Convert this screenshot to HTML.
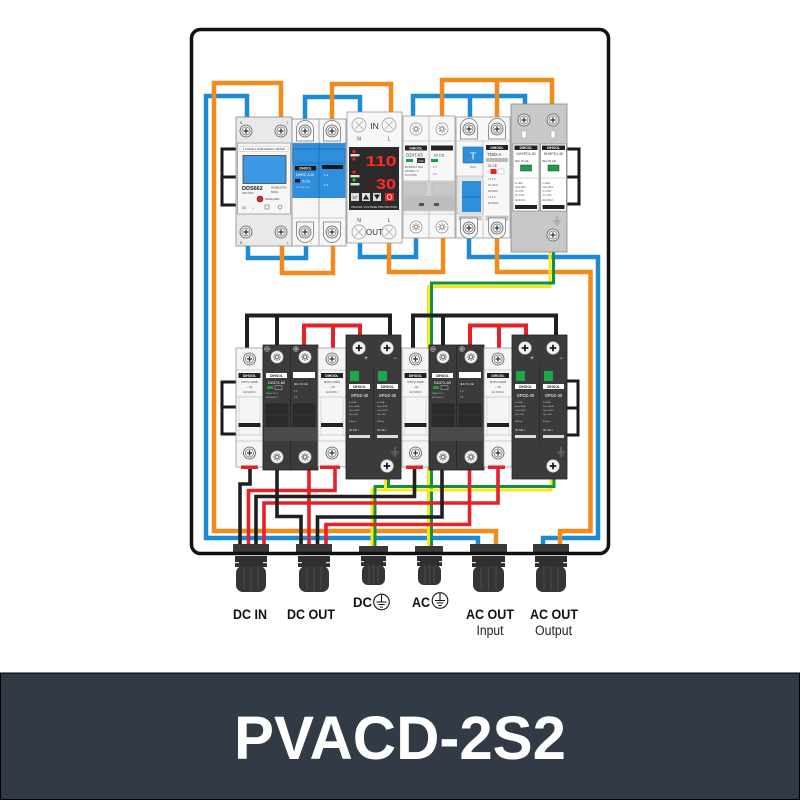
<!DOCTYPE html>
<html><head><meta charset="utf-8"><style>
html,body{margin:0;padding:0;background:#fff;}
svg{display:block;}
text{font-family:"Liberation Sans",Arial,sans-serif;}
.w{fill:none;stroke-linejoin:miter;stroke-linecap:butt;}
</style></head><body>
<svg width="800" height="800" viewBox="0 0 800 800" xmlns="http://www.w3.org/2000/svg">
<defs>
<g id="sw"><circle r="6" fill="#f3f3f3" stroke="#555" stroke-width=".8"/><circle r="4" fill="#fff" stroke="#666" stroke-width=".7"/><path d="M-2.6 0H2.6M0-2.6V2.6" stroke="#333" stroke-width="1.3"/></g>
<g id="tb"><path d="M-8.5 10V-2a8.5 8.5 0 0 1 17 0V10Z" fill="#f8f8f8" stroke="#777" stroke-width=".8"/><circle r="6" fill="#f3f3f3" stroke="#555" stroke-width=".8"/><circle r="4" fill="#fff" stroke="#666" stroke-width=".7"/><path d="M-2.6 0H2.6M0-2.6V2.6" stroke="#333" stroke-width="1.3"/></g>
<g id="sa"><circle r="6" fill="#fff" stroke="#888" stroke-width=".7"/><path d="M-4 0H4M0-4V4M-2.8-2.8L2.8 2.8M-2.8 2.8L2.8-2.8" stroke="#8a8a8a" stroke-width=".9"/><circle r="1.5" fill="#fff" stroke="#888" stroke-width=".6"/></g>
<g id="sx"><circle r="7" fill="#f7f7f7" stroke="#aaa" stroke-width=".9"/><path d="M-4-4L4 4M-4 4L4-4" stroke="#bbb" stroke-width="1"/></g>
<g id="sd"><circle r="6.5" fill="#f0f0f0" stroke="#888" stroke-width=".6"/><path d="M-3.3 0H3.3M0-3.3V3.3" stroke="#1a1a1a" stroke-width="1.8"/></g>
<g id="sda"><circle r="6.3" fill="#f0f0f0" stroke="#888" stroke-width=".6"/><path d="M-4 0H4M0-4V4M-2.8-2.8L2.8 2.8M-2.8 2.8L2.8-2.8" stroke="#666" stroke-width=".9"/><circle r="1.5" fill="#f0f0f0" stroke="#666" stroke-width=".6"/></g>
<g id="gs"><path d="M0-5V0M-4 0H4M-2.6 2H2.6M-1.2 4H1.2" stroke="#888" stroke-width=".8" fill="none"/></g>
</defs>

<rect width="800" height="800" fill="#fff"/>

<!-- ================= WIRES ================= -->
<g class="w" stroke-width="4.5">
  <polyline points="247,117 247,96 206,96 206,538 478,538 478,548" stroke="#1b8bd6"/>
  <polyline points="281,117 281,83 214,83 214,531 496,531 496,548" stroke="#f28a1c"/>
  <polyline points="305,119 305,97 360,97 360,112" stroke="#1b8bd6"/>
  <polyline points="332,119 332,84 391,84 391,112" stroke="#f28a1c"/>
  <polyline points="413,117 413,96 525,96 525,104" stroke="#1b8bd6"/>
  <polyline points="470,96 470,118" stroke="#1b8bd6"/>
  <polyline points="442,117 442,80 552,80 552,104" stroke="#f28a1c"/>
  <polyline points="497,80 497,118" stroke="#f28a1c"/>

  <polyline points="248,246 248,258 306,258 306,246" stroke="#1b8bd6"/>
  <polyline points="282,246 282,273 333,273 333,246" stroke="#f28a1c"/>
  <polyline points="360,243 360,257 416,257 416,238" stroke="#1b8bd6"/>
  <polyline points="389,243 389,272 443,272 443,238" stroke="#f28a1c"/>
  <polyline points="469,238 469,257 598,257 598,538 543,538 543,548" stroke="#1b8bd6"/>
  <polyline points="497,238 497,272 590.5,272 590.5,531 560,531 560,548" stroke="#f28a1c"/>
</g>

<!-- earth wires -->
<g class="w" stroke-width="3">
  <polyline points="550,252 550,286.5 428.5,286.5 428.5,548" stroke="#f7e81b"/>
  <polyline points="553.5,252 553.5,283 431.5,283 431.5,548" stroke="#109145"/>
  <polyline points="372,548 372,490 551,490 551,477" stroke="#f7e81b"/>
  <polyline points="375,548 375,486.5 554,486.5 554,477" stroke="#109145"/>
  <polyline points="385.5,478 385.5,490" stroke="#f7e81b"/>
  <polyline points="388.5,478 388.5,486.5" stroke="#109145"/>
</g>

<!-- DC wires top of bottom row -->
<g class="w" stroke-width="4">
  <polyline points="247,348 247,315.5 390,315.5 390,335" stroke="#1f1f1f"/>
  <polyline points="277,315.5 277,345" stroke="#1f1f1f"/>
  <polyline points="304,345 304,325.5 360,325.5 360,335" stroke="#e62129"/>
  <polyline points="333,325.5 333,348" stroke="#e62129"/>
  <polyline points="413,348 413,315.5 556,315.5 556,335" stroke="#1f1f1f"/>
  <polyline points="443,315.5 443,345" stroke="#1f1f1f"/>
  <polyline points="470,345 470,325.5 526,325.5 526,335" stroke="#e62129"/>
  <polyline points="499,325.5 499,348" stroke="#e62129"/>
</g>

<!-- DC wires bottom -->
<g class="w" stroke-width="3.6">
  <polyline points="248.5,548 248.5,490.5 335,490.5 335,469" stroke="#e62129"/>
  <polyline points="264,548 264,503 498,503 498,469" stroke="#e62129"/>
  <polyline points="326,548 326,524.5 469.5,524.5 469.5,469" stroke="#e62129"/>
  <polyline points="309,469 309,548" stroke="#e62129"/>
  <polyline points="250,469 250,484 240,484 240,548" stroke="#1f1f1f"/>
  <polyline points="256,548 256,496.5 414.5,496.5 414.5,469" stroke="#1f1f1f"/>
  <polyline points="277,469 277,516.5 301,516.5 301,548" stroke="#1f1f1f"/>
  <polyline points="317.5,548 317.5,517 442,517 442,469" stroke="#1f1f1f"/>
</g>

<!-- DIN rail brackets -->
<g fill="none" stroke="#1a1a1a" stroke-width="3">
  <path d="M237 149H222V205H237M222 177H237"/>
  <path d="M567 149H579V204H567M579 177H567"/>
  <path d="M236 382H222V434H236M222 407H236"/>
  <path d="M566 381H578V435H566M578 408H566"/>
</g>

<!-- ================= TOP ROW ================= -->
<!-- Energy meter -->
<rect x="236" y="117" width="56" height="129" fill="#e9e9e9" stroke="#888" stroke-width=".8"/>
<rect x="237.5" y="143" width="53" height="71" fill="#f6f6f6" stroke="#999" stroke-width=".8"/>
<rect x="240" y="146.5" width="48" height="5" fill="#fff" stroke="#aaa" stroke-width=".4"/>
<text x="264" y="150.2" font-size="2.6" text-anchor="middle" fill="#333">1 PHASE 2 WIRE ENERGY METER</text>
<rect x="243" y="155.5" width="43" height="28" fill="#3c97e4" stroke="#444" stroke-width=".8"/>
<text x="242" y="190" font-size="5.5" font-weight="bold" fill="#222">DDS662</text>
<text x="271" y="188.5" font-size="2.4" fill="#444">MODBUS-RTU</text>
<text x="242" y="194" font-size="2.4" fill="#444">230V 50Hz</text>
<text x="271" y="193" font-size="2.4" fill="#444">5(60)A</text>
<circle cx="260" cy="199" r="3" fill="#e32222" stroke="#333" stroke-width=".6"/>
<text x="265" y="200" font-size="2.4" fill="#444">1600imp/kWh</text>
<text x="242" y="209" font-size="3.2" fill="#444">CE</text>
<text x="252" y="209" font-size="3.2" fill="#444">⊥</text>
<rect x="265" y="205" width="4" height="4" fill="none" stroke="#555" stroke-width=".5"/>
<circle cx="280" cy="207" r="2" fill="none" stroke="#555" stroke-width=".5"/>
<text x="240" y="124" font-size="3.2" fill="#444">N</text>
<text x="287" y="124" font-size="3.2" fill="#444">L</text>
<text x="240" y="244" font-size="3.2" fill="#444">N</text>
<text x="287" y="244" font-size="3.2" fill="#444">L</text>
<use href="#sw" x="246" y="131"/><use href="#sw" x="281" y="131"/>
<use href="#sw" x="246" y="232"/><use href="#sw" x="281" y="232"/>

<!-- Blue MCB -->
<rect x="292" y="119" width="54" height="127" fill="#f6f6f6" stroke="#888" stroke-width=".8"/>
<line x1="319" y1="119" x2="319" y2="246" stroke="#999" stroke-width=".8"/>
<rect x="292.5" y="143" width="53" height="55" fill="#2f8fdc"/>
<rect x="293" y="149" width="52" height="14" fill="none" stroke="#1a6cb0" stroke-width=".7"/>
<line x1="319" y1="143" x2="319" y2="198" stroke="#1a6cb0" stroke-width=".8"/>
<rect x="295" y="166" width="21" height="4.5" fill="#1a1a1a"/>
<text x="305.5" y="169.6" font-size="3.2" fill="#fff" text-anchor="middle" font-weight="bold">DIHOOL</text>
<text x="296" y="176" font-size="3.6" fill="#fff">DHRC-125</text>
<rect x="295" y="179" width="5" height="3.5" fill="#1a1a1a"/>
<text x="302" y="182.5" font-size="3.2" fill="#fff">IS CE</text>
<text x="296" y="188" font-size="2.2" fill="#cfe4f7">2P 125A 400V</text>
<rect x="322" y="165" width="21" height="4" fill="#1a1a1a"/>
<text x="324" y="176" font-size="3" fill="#fff">1 3</text>
<text x="324" y="186" font-size="3" fill="#fff">2 4</text>
<line x1="292" y1="218" x2="346" y2="218" stroke="#aaa" stroke-width=".6"/>
<line x1="292" y1="143" x2="346" y2="143" stroke="#999" stroke-width=".6"/>
<use href="#tb" x="305" y="131"/><use href="#tb" x="332" y="131"/>
<use href="#tb" transform="translate(305,232) rotate(180)"/><use href="#tb" transform="translate(332,232) rotate(180)"/>

<!-- Voltage protector -->
<rect x="347" y="112" width="55" height="131" fill="#f7f7f7" stroke="#999" stroke-width=".8"/>
<use href="#sx" x="359" y="125"/><use href="#sx" x="389" y="125"/>
<text x="374.5" y="129" font-size="8.5" text-anchor="middle" fill="#333">IN</text>
<text x="359" y="140.5" font-size="5" text-anchor="middle" fill="#333">N</text>
<text x="389" y="140.5" font-size="5" text-anchor="middle" fill="#333">L</text>
<rect x="349" y="147" width="50" height="63" fill="#2a2a2a"/>
<circle cx="354" cy="151.5" r="1.6" fill="#f22"/><circle cx="354" cy="159" r="1.6" fill="#f22"/>
<rect x="350.5" y="154" width="9" height="2.4" fill="#ddd"/>
<text x="381" y="166" font-size="15" font-family="Liberation Mono" font-weight="bold" fill="#ff2b2b" text-anchor="middle" textLength="31" lengthAdjust="spacingAndGlyphs">110</text>
<text x="370" y="189" font-size="15" font-family="Liberation Mono" font-weight="bold" fill="#4a2020" text-anchor="middle">8</text>
<text x="386" y="189" font-size="15" font-family="Liberation Mono" font-weight="bold" fill="#ff2b2b" text-anchor="middle" textLength="20" lengthAdjust="spacingAndGlyphs">30</text>
<circle cx="354" cy="172" r="1.6" fill="#f22"/><circle cx="354" cy="180" r="1.6" fill="#2c2"/>
<rect x="350.5" y="175" width="9" height="2.4" fill="#ddd"/>
<rect x="350.5" y="183" width="9" height="2.4" fill="#ddd"/>
<rect x="351" y="193" width="8" height="8" fill="#ddd"/><text x="355" y="198.5" font-size="2.6" text-anchor="middle" fill="#222">SET</text>
<rect x="362" y="193" width="8" height="8" fill="#ddd"/><path d="M366 194.5L369 199.5H363Z" fill="#222"/>
<rect x="373" y="193" width="8" height="8" fill="#ddd"/><path d="M377 199.5L380 194.5H374Z" fill="#222"/>
<rect x="385" y="193" width="9" height="8" fill="#e22"/><circle cx="389.5" cy="197" r="2.4" fill="none" stroke="#fff" stroke-width=".7"/>
<text x="374" y="208" font-size="3" fill="#eee" text-anchor="middle">DIHOOL VOLTAGE PROTECTOR</text>
<text x="359" y="222" font-size="5" text-anchor="middle" fill="#333">N</text>
<text x="389" y="222" font-size="5" text-anchor="middle" fill="#333">L</text>
<use href="#sx" x="359" y="232"/><use href="#sx" x="389" y="232"/>
<text x="374.5" y="235" font-size="8" text-anchor="middle" fill="#333">OUT</text>

<!-- DZ47-63 -->
<rect x="403" y="116" width="52" height="122" fill="#f7f7f7" stroke="#999" stroke-width=".8"/>
<line x1="429" y1="116" x2="429" y2="238" stroke="#aaa" stroke-width=".7"/>
<line x1="403" y1="141" x2="455" y2="141" stroke="#aaa" stroke-width=".6"/>
<line x1="403" y1="214" x2="455" y2="214" stroke="#aaa" stroke-width=".6"/>
<use href="#sa" x="416" y="129"/><use href="#sa" x="442" y="129"/>
<use href="#sa" x="416" y="227"/><use href="#sa" x="442" y="227"/>
<rect x="405" y="145.5" width="22" height="5" fill="#222"/>
<text x="416" y="149.4" font-size="3.4" fill="#fff" text-anchor="middle" font-weight="bold">DIHOOL</text>
<rect x="431" y="145.5" width="22" height="5" fill="#222"/>
<text x="406" y="156.5" font-size="4.3" fill="#333">DZ47-63</text>
<text x="434" y="156.5" font-size="4" fill="#333">IS CE</text>
<rect x="406" y="159" width="7" height="3" fill="#18a048"/>
<rect x="417" y="158" width="8" height="5" fill="#333"/>
<text x="421" y="162" font-size="2.8" fill="#fff" text-anchor="middle">C32</text>
<rect x="431" y="159" width="7" height="3" fill="#18a048"/>
<text x="405" y="168" font-size="2.3" fill="#555">IEC60898-1 6000</text>
<text x="405" y="172" font-size="2.3" fill="#555">230/400V~ 3</text>
<text x="405" y="176" font-size="2.3" fill="#555">1P+N 50Hz</text>
<text x="433" y="168" font-size="2.6" fill="#555">1 3</text>
<text x="433" y="175" font-size="2.6" fill="#555">2 4</text>
<rect x="404" y="181" width="50" height="30" fill="#d2d2d2" stroke="#aaa" stroke-width=".5"/>
<rect x="404" y="196" width="50" height="14" fill="#bdbdbd"/>
<rect x="406" y="183" width="20" height="12" fill="#c8c8c8" stroke="#aaa" stroke-width=".4"/>
<rect x="432" y="183" width="20" height="12" fill="#c8c8c8" stroke="#aaa" stroke-width=".4"/>
<rect x="419" y="203" width="5" height="3" fill="#555"/><rect x="434" y="203" width="5" height="3" fill="#555"/>

<!-- RCBO -->
<rect x="456" y="117" width="54" height="121" fill="#f7f7f7" stroke="#999" stroke-width=".8"/>
<line x1="483" y1="141" x2="483" y2="238" stroke="#aaa" stroke-width=".6"/>
<line x1="456" y1="141" x2="510" y2="141" stroke="#aaa" stroke-width=".6"/>
<use href="#tb" x="469" y="129"/><use href="#tb" x="497" y="129"/>
<rect x="463" y="147" width="20" height="16" fill="#2f8fdc" stroke="#1a6cb0" stroke-width=".6"/>
<text x="473" y="159.5" font-size="10" fill="#fff" text-anchor="middle">T</text>
<text x="473" y="168" font-size="2.6" fill="#666" text-anchor="middle">TEST</text>
<rect x="457" y="176" width="26" height="38" fill="#e5e5e5" stroke="#aaa" stroke-width=".5"/>
<rect x="462" y="181" width="19" height="31" fill="#2f8fdc"/>
<line x1="462" y1="197" x2="481" y2="197" stroke="#1a6cb0" stroke-width="1"/>
<rect x="486" y="145" width="22" height="5" fill="#222"/>
<text x="497" y="148.9" font-size="3.4" fill="#fff" text-anchor="middle" font-weight="bold">DIHOOL</text>
<text x="487" y="156" font-size="4.3" fill="#333">TNID-A</text>
<rect x="486" y="158" width="22" height="4" fill="#bbb"/>
<text x="488" y="167" font-size="3.5" fill="#333">IS CE</text>
<rect x="490.5" y="169" width="6" height="5" fill="#e22"/>
<rect x="498" y="169" width="6" height="5" fill="#fff" stroke="#999" stroke-width=".4"/>
<text x="488" y="180" font-size="2.3" fill="#555">1 3 5 N</text>
<text x="488" y="186" font-size="2.3" fill="#555">IΔn 30mA</text>
<text x="488" y="192" font-size="2.3" fill="#555">230/400V</text>
<text x="488" y="198" font-size="2.3" fill="#555">2 4 6 N</text>
<text x="488" y="204" font-size="2.3" fill="#555">IEC61009</text>
<rect x="459" y="216" width="22" height="4" fill="#d0d0d0" stroke="#999" stroke-width=".4"/>
<rect x="486" y="216" width="22" height="4" fill="#d0d0d0" stroke="#999" stroke-width=".4"/>
<use href="#tb" transform="translate(469,228) rotate(180)"/><use href="#tb" transform="translate(497,228) rotate(180)"/>

<!-- Gray SPD -->
<rect x="511" y="104" width="56" height="148" fill="#c8c8c8" stroke="#888" stroke-width=".8"/>
<use href="#sw" x="524" y="120"/><use href="#sw" x="553" y="120"/>
<rect x="522" y="131" width="4" height="7" fill="#fff" stroke="#999" stroke-width=".4"/>
<rect x="551" y="131" width="4" height="7" fill="#fff" stroke="#999" stroke-width=".4"/>
<rect x="513" y="144" width="26" height="67" fill="#fff" stroke="#777" stroke-width=".6"/>
<rect x="540.5" y="144" width="26" height="67" fill="#fff" stroke="#777" stroke-width=".6"/>
<rect x="514.5" y="145.5" width="23" height="4.5" fill="#222"/>
<text x="526" y="149.1" font-size="3.3" fill="#fff" text-anchor="middle" font-weight="bold">DIHOOL</text>
<rect x="542" y="145.5" width="23" height="4.5" fill="#222"/>
<text x="553.5" y="149.1" font-size="3.3" fill="#fff" text-anchor="middle" font-weight="bold">DIHOOL</text>
<text x="526" y="155" font-size="3.5" fill="#333" text-anchor="middle">DHSPD1-40</text>
<text x="553.5" y="155" font-size="3.5" fill="#333" text-anchor="middle">DHSPD1-40</text>
<text x="515" y="162" font-size="3" fill="#333">IEC IS CE</text>
<text x="542.5" y="162" font-size="3" fill="#333">IEC IS CE</text>
<rect x="520.5" y="165" width="11" height="6" fill="#18a048" stroke="#333" stroke-width=".5"/>
<rect x="548" y="165" width="11" height="6" fill="#18a048" stroke="#333" stroke-width=".5"/>
<line x1="513" y1="178" x2="539" y2="178" stroke="#999" stroke-width=".4"/>
<line x1="540.5" y1="178" x2="566.5" y2="178" stroke="#999" stroke-width=".4"/>
<text x="515" y="184" font-size="2.3" fill="#555">In 20kA</text><text x="542.5" y="184" font-size="2.3" fill="#555">In 20kA</text>
<text x="515" y="188" font-size="2.3" fill="#555">Imax 40kA</text><text x="542.5" y="188" font-size="2.3" fill="#555">Imax 40kA</text>
<text x="515" y="192" font-size="2.3" fill="#555">Uc 275V</text><text x="542.5" y="192" font-size="2.3" fill="#555">Uc 275V</text>
<text x="515" y="196" font-size="2.3" fill="#555">Up 1.5kV</text><text x="542.5" y="196" font-size="2.3" fill="#555">Up 1.5kV</text>
<text x="515" y="201" font-size="2.3" fill="#555">IEC61643</text><text x="542.5" y="201" font-size="2.3" fill="#555">IEC61643</text>
<rect x="515" y="205" width="22" height="4" fill="#222"/>
<rect x="542.5" y="205" width="22" height="4" fill="#222"/>
<use href="#gs" x="557" y="221"/>
<use href="#sw" x="553" y="235"/>

<!-- ================= BOTTOM ROW GROUP 1 ================= -->
<!-- fuse 1 -->
<rect x="236" y="348" width="27" height="119" fill="#f5f5f5" stroke="#999" stroke-width=".8"/>
<use href="#sw" x="249.5" y="359"/>
<line x1="236" y1="370" x2="263" y2="370" stroke="#aaa" stroke-width=".6"/>
<rect x="238.5" y="373" width="22" height="5" fill="#222"/>
<text x="249.5" y="376.9" font-size="3.4" fill="#fff" text-anchor="middle" font-weight="bold">DIHOOL</text>
<text x="249.5" y="383" font-size="3" fill="#444" text-anchor="middle">RTPV-10D8</text>
<text x="249.5" y="388" font-size="2.6" fill="#555" text-anchor="middle">~ CE</text>
<text x="249.5" y="393" font-size="2.3" fill="#666" text-anchor="middle">IEC60269-6</text>
<line x1="236" y1="397" x2="263" y2="397" stroke="#aaa" stroke-width=".6"/>
<line x1="239" y1="397" x2="239" y2="435" stroke="#ccc" stroke-width=".6"/>
<line x1="260" y1="397" x2="260" y2="435" stroke="#ccc" stroke-width=".6"/>
<rect x="238.5" y="423" width="22" height="4" fill="#222"/>
<line x1="236" y1="435" x2="263" y2="435" stroke="#aaa" stroke-width=".6"/>
<line x1="236" y1="441" x2="263" y2="441" stroke="#aaa" stroke-width=".6"/>
<use href="#sw" x="249.5" y="453"/>
<!-- breaker 1 -->
<rect x="263" y="345" width="55" height="125" fill="#3b3b3b" stroke="#222" stroke-width=".8"/>
<line x1="290.5" y1="345" x2="290.5" y2="470" stroke="#262626" stroke-width=".8"/>
<circle cx="267" cy="349" r="2.5" fill="#555" stroke="#ddd" stroke-width=".5"/><path d="M265.5 349H268.5" stroke="#fff" stroke-width=".6"/>
<circle cx="296" cy="349" r="2.5" fill="#555" stroke="#ddd" stroke-width=".5"/><path d="M294.5 349H297.5M296 347.5V350.5" stroke="#fff" stroke-width=".6"/>
<use href="#sda" x="277" y="357"/><use href="#sda" x="305" y="357"/>
<rect x="266" y="373" width="21" height="5" fill="#fff"/>
<text x="276.5" y="376.9" font-size="3.3" fill="#222" text-anchor="middle" font-weight="bold">DIHOOL</text>
<rect x="293" y="372" width="22" height="6" fill="#fff"/>
<text x="276.5" y="384" font-size="3.8" fill="#fff" text-anchor="middle">DZ47X-60</text>
<rect x="267" y="386" width="6" height="3" fill="#18a048"/>
<rect x="275" y="385.5" width="7" height="4" fill="none" stroke="#ddd" stroke-width=".4"/>
<text x="294" y="385" font-size="3" fill="#eee">IEC IS CE</text>
<text x="266" y="394" font-size="2.2" fill="#ccc">1000V DC 2</text>
<text x="266" y="398" font-size="2.2" fill="#ccc">IEC60947-2</text>
<text x="294" y="392" font-size="2.4" fill="#ccc">1 3</text>
<text x="294" y="398" font-size="2.4" fill="#ccc">2 4</text>
<rect x="266" y="404" width="22" height="23" fill="#2b2b2b" stroke="#222" stroke-width=".5"/>
<rect x="293" y="404" width="22" height="23" fill="#2b2b2b" stroke="#222" stroke-width=".5"/>
<line x1="266" y1="415" x2="288" y2="415" stroke="#444" stroke-width=".6"/>
<line x1="293" y1="415" x2="315" y2="415" stroke="#444" stroke-width=".6"/>
<rect x="264" y="427" width="53" height="14" fill="#4a4a4a"/>
<use href="#sda" x="277" y="457"/><use href="#sda" x="305" y="457"/>
<!-- fuse 2 -->
<rect x="318" y="348" width="28" height="119" fill="#f5f5f5" stroke="#999" stroke-width=".8"/>
<use href="#sw" x="332" y="359"/>
<line x1="318" y1="370" x2="346" y2="370" stroke="#aaa" stroke-width=".6"/>
<rect x="321" y="373" width="22" height="5" fill="#222"/>
<text x="332" y="376.9" font-size="3.4" fill="#fff" text-anchor="middle" font-weight="bold">DIHOOL</text>
<text x="332" y="383" font-size="3" fill="#444" text-anchor="middle">RTPV-10D8</text>
<text x="332" y="388" font-size="2.6" fill="#555" text-anchor="middle">~ CE</text>
<text x="332" y="393" font-size="2.3" fill="#666" text-anchor="middle">IEC60269-6</text>
<line x1="318" y1="397" x2="346" y2="397" stroke="#aaa" stroke-width=".6"/>
<line x1="321" y1="397" x2="321" y2="435" stroke="#ccc" stroke-width=".6"/>
<line x1="343" y1="397" x2="343" y2="435" stroke="#ccc" stroke-width=".6"/>
<rect x="321" y="423" width="22" height="4" fill="#222"/>
<line x1="318" y1="435" x2="346" y2="435" stroke="#aaa" stroke-width=".6"/>
<line x1="318" y1="441" x2="346" y2="441" stroke="#aaa" stroke-width=".6"/>
<use href="#sw" x="332" y="453"/>
<!-- SPD 1 -->
<rect x="346" y="335" width="55" height="144" fill="#3b3b3b" stroke="#222" stroke-width=".8"/>
<line x1="373.5" y1="366" x2="373.5" y2="442" stroke="#262626" stroke-width=".8"/>
<use href="#sd" x="359" y="348"/><use href="#sd" x="387" y="348"/>
<text x="366" y="360" font-size="6" fill="#fff" text-anchor="middle">+</text>
<text x="395" y="360" font-size="6" fill="#fff" text-anchor="middle">−</text>
<rect x="350" y="371" width="9" height="10" fill="#1fa64a"/>
<rect x="378" y="371" width="9" height="10" fill="#1fa64a"/>
<rect x="349" y="384" width="21" height="5" fill="#fff"/>
<text x="359.5" y="387.9" font-size="3.3" fill="#222" text-anchor="middle" font-weight="bold">DIHOOL</text>
<rect x="377" y="384" width="21" height="5" fill="#fff"/>
<text x="387.5" y="387.9" font-size="3.3" fill="#222" text-anchor="middle" font-weight="bold">DIHOOL</text>
<text x="359.5" y="397" font-size="4.2" fill="#fff" text-anchor="middle">SPDZ-40</text>
<text x="387.5" y="397" font-size="4.2" fill="#fff" text-anchor="middle">SPDZ-40</text>
<text x="349" y="403" font-size="2.2" fill="#ccc">In 20kA</text><text x="377" y="403" font-size="2.2" fill="#ccc">In 20kA</text>
<text x="349" y="407" font-size="2.2" fill="#ccc">Imax 40kA</text><text x="377" y="407" font-size="2.2" fill="#ccc">Imax 40kA</text>
<text x="349" y="411" font-size="2.2" fill="#ccc">Ucpv 600V</text><text x="377" y="411" font-size="2.2" fill="#ccc">Ucpv 600V</text>
<text x="349" y="415" font-size="2.2" fill="#ccc">Up 2.4kV</text><text x="377" y="415" font-size="2.2" fill="#ccc">Up 2.4kV</text>
<text x="349" y="422" font-size="2.2" fill="#ccc">600Vpv</text><text x="377" y="422" font-size="2.2" fill="#ccc">600Vpv</text>
<text x="349" y="431" font-size="3" fill="#eee">IS CE ▪</text><text x="377" y="431" font-size="3" fill="#eee">IS CE ▪</text>
<rect x="349" y="435" width="21" height="3" fill="#ddd"/>
<rect x="377" y="435" width="21" height="3" fill="#ddd"/>
<use href="#gs" x="395" y="452"/>
<use href="#sd" x="387" y="466"/>

<!-- ================= BOTTOM ROW GROUP 2 ================= -->
<g transform="translate(166,0)">
<rect x="236" y="348" width="27" height="119" fill="#f5f5f5" stroke="#999" stroke-width=".8"/>
<use href="#sw" x="249.5" y="359"/>
<line x1="236" y1="370" x2="263" y2="370" stroke="#aaa" stroke-width=".6"/>
<rect x="238.5" y="373" width="22" height="5" fill="#222"/>
<text x="249.5" y="376.9" font-size="3.4" fill="#fff" text-anchor="middle" font-weight="bold">DIHOOL</text>
<text x="249.5" y="383" font-size="3" fill="#444" text-anchor="middle">RTPV-10D8</text>
<text x="249.5" y="388" font-size="2.6" fill="#555" text-anchor="middle">~ CE</text>
<text x="249.5" y="393" font-size="2.3" fill="#666" text-anchor="middle">IEC60269-6</text>
<line x1="236" y1="397" x2="263" y2="397" stroke="#aaa" stroke-width=".6"/>
<line x1="239" y1="397" x2="239" y2="435" stroke="#ccc" stroke-width=".6"/>
<line x1="260" y1="397" x2="260" y2="435" stroke="#ccc" stroke-width=".6"/>
<rect x="238.5" y="423" width="22" height="4" fill="#222"/>
<line x1="236" y1="435" x2="263" y2="435" stroke="#aaa" stroke-width=".6"/>
<line x1="236" y1="441" x2="263" y2="441" stroke="#aaa" stroke-width=".6"/>
<use href="#sw" x="249.5" y="453"/>
<rect x="263" y="345" width="55" height="125" fill="#3b3b3b" stroke="#222" stroke-width=".8"/>
<line x1="290.5" y1="345" x2="290.5" y2="470" stroke="#262626" stroke-width=".8"/>
<circle cx="267" cy="349" r="2.5" fill="#555" stroke="#ddd" stroke-width=".5"/><path d="M265.5 349H268.5" stroke="#fff" stroke-width=".6"/>
<circle cx="296" cy="349" r="2.5" fill="#555" stroke="#ddd" stroke-width=".5"/><path d="M294.5 349H297.5M296 347.5V350.5" stroke="#fff" stroke-width=".6"/>
<use href="#sda" x="277" y="357"/><use href="#sda" x="305" y="357"/>
<rect x="266" y="373" width="21" height="5" fill="#fff"/>
<text x="276.5" y="376.9" font-size="3.3" fill="#222" text-anchor="middle" font-weight="bold">DIHOOL</text>
<rect x="293" y="372" width="22" height="6" fill="#fff"/>
<text x="276.5" y="384" font-size="3.8" fill="#fff" text-anchor="middle">DZ47X-60</text>
<rect x="267" y="386" width="6" height="3" fill="#18a048"/>
<rect x="275" y="385.5" width="7" height="4" fill="none" stroke="#ddd" stroke-width=".4"/>
<text x="294" y="385" font-size="3" fill="#eee">IEC IS CE</text>
<text x="266" y="394" font-size="2.2" fill="#ccc">1000V DC 2</text>
<text x="266" y="398" font-size="2.2" fill="#ccc">IEC60947-2</text>
<text x="294" y="392" font-size="2.4" fill="#ccc">1 3</text>
<text x="294" y="398" font-size="2.4" fill="#ccc">2 4</text>
<rect x="266" y="404" width="22" height="23" fill="#2b2b2b" stroke="#222" stroke-width=".5"/>
<rect x="293" y="404" width="22" height="23" fill="#2b2b2b" stroke="#222" stroke-width=".5"/>
<line x1="266" y1="415" x2="288" y2="415" stroke="#444" stroke-width=".6"/>
<line x1="293" y1="415" x2="315" y2="415" stroke="#444" stroke-width=".6"/>
<rect x="264" y="427" width="53" height="14" fill="#4a4a4a"/>
<use href="#sda" x="277" y="457"/><use href="#sda" x="305" y="457"/>
<rect x="318" y="348" width="28" height="119" fill="#f5f5f5" stroke="#999" stroke-width=".8"/>
<use href="#sw" x="332" y="359"/>
<line x1="318" y1="370" x2="346" y2="370" stroke="#aaa" stroke-width=".6"/>
<rect x="321" y="373" width="22" height="5" fill="#222"/>
<text x="332" y="376.9" font-size="3.4" fill="#fff" text-anchor="middle" font-weight="bold">DIHOOL</text>
<text x="332" y="383" font-size="3" fill="#444" text-anchor="middle">RTPV-10D8</text>
<text x="332" y="388" font-size="2.6" fill="#555" text-anchor="middle">~ CE</text>
<text x="332" y="393" font-size="2.3" fill="#666" text-anchor="middle">IEC60269-6</text>
<line x1="318" y1="397" x2="346" y2="397" stroke="#aaa" stroke-width=".6"/>
<line x1="321" y1="397" x2="321" y2="435" stroke="#ccc" stroke-width=".6"/>
<line x1="343" y1="397" x2="343" y2="435" stroke="#ccc" stroke-width=".6"/>
<rect x="321" y="423" width="22" height="4" fill="#222"/>
<line x1="318" y1="435" x2="346" y2="435" stroke="#aaa" stroke-width=".6"/>
<line x1="318" y1="441" x2="346" y2="441" stroke="#aaa" stroke-width=".6"/>
<use href="#sw" x="332" y="453"/>
<rect x="346" y="335" width="55" height="144" fill="#3b3b3b" stroke="#222" stroke-width=".8"/>
<line x1="373.5" y1="366" x2="373.5" y2="442" stroke="#262626" stroke-width=".8"/>
<use href="#sd" x="359" y="348"/><use href="#sd" x="387" y="348"/>
<text x="366" y="360" font-size="6" fill="#fff" text-anchor="middle">+</text>
<text x="395" y="360" font-size="6" fill="#fff" text-anchor="middle">−</text>
<rect x="350" y="371" width="9" height="10" fill="#1fa64a"/>
<rect x="378" y="371" width="9" height="10" fill="#1fa64a"/>
<rect x="349" y="384" width="21" height="5" fill="#fff"/>
<text x="359.5" y="387.9" font-size="3.3" fill="#222" text-anchor="middle" font-weight="bold">DIHOOL</text>
<rect x="377" y="384" width="21" height="5" fill="#fff"/>
<text x="387.5" y="387.9" font-size="3.3" fill="#222" text-anchor="middle" font-weight="bold">DIHOOL</text>
<text x="359.5" y="397" font-size="4.2" fill="#fff" text-anchor="middle">SPDZ-40</text>
<text x="387.5" y="397" font-size="4.2" fill="#fff" text-anchor="middle">SPDZ-40</text>
<text x="349" y="403" font-size="2.2" fill="#ccc">In 20kA</text><text x="377" y="403" font-size="2.2" fill="#ccc">In 20kA</text>
<text x="349" y="407" font-size="2.2" fill="#ccc">Imax 40kA</text><text x="377" y="407" font-size="2.2" fill="#ccc">Imax 40kA</text>
<text x="349" y="411" font-size="2.2" fill="#ccc">Ucpv 600V</text><text x="377" y="411" font-size="2.2" fill="#ccc">Ucpv 600V</text>
<text x="349" y="415" font-size="2.2" fill="#ccc">Up 2.4kV</text><text x="377" y="415" font-size="2.2" fill="#ccc">Up 2.4kV</text>
<text x="349" y="422" font-size="2.2" fill="#ccc">600Vpv</text><text x="377" y="422" font-size="2.2" fill="#ccc">600Vpv</text>
<text x="349" y="431" font-size="3" fill="#eee">IS CE ▪</text><text x="377" y="431" font-size="3" fill="#eee">IS CE ▪</text>
<rect x="349" y="435" width="21" height="3" fill="#ddd"/>
<rect x="377" y="435" width="21" height="3" fill="#ddd"/>
<use href="#gs" x="395" y="452"/>
<use href="#sd" x="387" y="466"/>
</g>

<!-- red stubs at fuse bottoms -->
<g fill="#e62129">
  <rect x="241" y="465.5" width="17" height="3.5"/>
  <rect x="320" y="465.5" width="20" height="3.5"/>
  <rect x="406" y="465.5" width="17" height="3.5"/>
  <rect x="488" y="465.5" width="17" height="3.5"/>
</g>

<!-- ================= GLAND CAPS + BOX ================= -->
<g fill="#3a3a3a">
  <rect x="233" y="544" width="36" height="8"/>
  <rect x="296" y="544" width="36" height="8"/>
  <rect x="359" y="546" width="29" height="6"/>
  <rect x="415" y="546" width="28" height="6"/>
  <rect x="470" y="544" width="37" height="8"/>
  <rect x="533" y="544" width="36" height="8"/>
</g>
<rect x="191.5" y="29.5" width="417" height="524" rx="9" fill="none" stroke="#111" stroke-width="3.5"/>

<!-- gland bodies -->
<g>
  <g transform="translate(235,0)">
    <rect x="0" y="556" width="32" height="11" fill="#2f2f2f"/>
    <rect x="0" y="562" width="4" height="1.2" fill="#ddd"/><rect x="28" y="562" width="4" height="1.2" fill="#ddd"/>
    <rect x="1" y="566" width="30" height="26" rx="7" fill="#353535"/>
    <path d="M9 567V590M16 567V591M23 567V590" stroke="#4b4b4b" stroke-width="1"/>
  </g>
  <g transform="translate(298,0)">
    <rect x="0" y="556" width="32" height="11" fill="#2f2f2f"/>
    <rect x="0" y="562" width="4" height="1.2" fill="#ddd"/><rect x="28" y="562" width="4" height="1.2" fill="#ddd"/>
    <rect x="1" y="566" width="30" height="26" rx="7" fill="#353535"/>
    <path d="M9 567V590M16 567V591M23 567V590" stroke="#4b4b4b" stroke-width="1"/>
  </g>
  <g transform="translate(361,0)">
    <rect x="0" y="556" width="25" height="10" fill="#2f2f2f"/>
    <rect x="0" y="561" width="3" height="1.2" fill="#ddd"/><rect x="22" y="561" width="3" height="1.2" fill="#ddd"/>
    <rect x="1" y="565" width="23" height="20" rx="6" fill="#353535"/>
    <path d="M8 566V583M12.5 566V584M17 566V583" stroke="#4b4b4b" stroke-width="1"/>
  </g>
  <g transform="translate(417,0)">
    <rect x="0" y="556" width="25" height="10" fill="#2f2f2f"/>
    <rect x="0" y="561" width="3" height="1.2" fill="#ddd"/><rect x="22" y="561" width="3" height="1.2" fill="#ddd"/>
    <rect x="1" y="565" width="23" height="20" rx="6" fill="#353535"/>
    <path d="M8 566V583M12.5 566V584M17 566V583" stroke="#4b4b4b" stroke-width="1"/>
  </g>
  <g transform="translate(472,0)">
    <rect x="0" y="556" width="33" height="11" fill="#2f2f2f"/>
    <rect x="0" y="562" width="4" height="1.2" fill="#ddd"/><rect x="29" y="562" width="4" height="1.2" fill="#ddd"/>
    <rect x="1" y="566" width="31" height="26" rx="7" fill="#353535"/>
    <path d="M9 567V590M16.5 567V591M24 567V590" stroke="#4b4b4b" stroke-width="1"/>
  </g>
  <g transform="translate(535,0)">
    <rect x="0" y="556" width="32" height="11" fill="#2f2f2f"/>
    <rect x="0" y="562" width="4" height="1.2" fill="#ddd"/><rect x="28" y="562" width="4" height="1.2" fill="#ddd"/>
    <rect x="1" y="566" width="30" height="26" rx="7" fill="#353535"/>
    <path d="M9 567V590M16 567V591M23 567V590" stroke="#4b4b4b" stroke-width="1"/>
  </g>
</g>

<!-- labels -->
<g fill="#111" font-weight="bold" font-size="14">
  <text x="250" y="619" text-anchor="middle" textLength="34" lengthAdjust="spacingAndGlyphs">DC IN</text>
  <text x="311" y="619" text-anchor="middle" textLength="48" lengthAdjust="spacingAndGlyphs">DC OUT</text>
  <text x="362.5" y="607" text-anchor="middle" textLength="19" lengthAdjust="spacingAndGlyphs">DC</text>
  <text x="421" y="607" text-anchor="middle" textLength="18" lengthAdjust="spacingAndGlyphs">AC</text>
  <text x="490" y="619" text-anchor="middle" textLength="48" lengthAdjust="spacingAndGlyphs">AC OUT</text>
  <text x="554" y="619" text-anchor="middle" textLength="48" lengthAdjust="spacingAndGlyphs">AC OUT</text>
</g>
<g fill="#222" font-size="13.5">
  <text x="490" y="635" text-anchor="middle" textLength="27" lengthAdjust="spacingAndGlyphs">Input</text>
  <text x="553.5" y="635" text-anchor="middle" textLength="37" lengthAdjust="spacingAndGlyphs">Output</text>
</g>
<g fill="none" stroke="#111" stroke-width="1.1">
  <circle cx="381.5" cy="602" r="7.8"/>
  <path d="M381.5 595V602M376.5 602H386.5M378.3 604.5H384.7M380 607H383"/>
  <circle cx="440" cy="600.5" r="7.8"/>
  <path d="M440 593.5V600.5M435 600.5H445M436.8 603H443.2M438.5 605.5H441.5"/>
</g>

<!-- ================= BANNER ================= -->
<rect x="0.5" y="673" width="799" height="126.5" fill="#323a45" stroke="#000" stroke-width="1"/>
<text x="400" y="759" font-size="61" font-weight="bold" fill="#fff" text-anchor="middle" textLength="332" lengthAdjust="spacingAndGlyphs">PVACD-2S2</text>
</svg>
</body></html>
